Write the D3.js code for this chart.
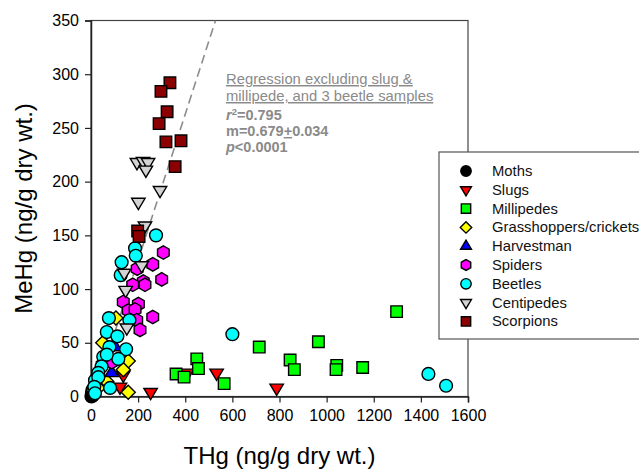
<!DOCTYPE html>
<html><head><meta charset="utf-8">
<script src="https://cdn.jsdelivr.net/npm/d3@7"></script>
<style>body{margin:0;background:#fff;} svg{display:block;font-family:Arial,"Liberation Sans",sans-serif;}</style>
</head><body>
<svg id="c" width="639" height="470"></svg>
<script>
// ---- data (THg, MeHg) in ng/g dry wt. ----
const moths = [[2,0],[4,3],[8,1],[11,4],[6,6]];
const slugs = [[409,22],[533,22],[788,8],[253,4],[123,9],[137,20]];
const millipedes = [[361,21],[395,18],[449,35],[456,26],[565,12],[714,46],[845,34],[863,25],[965,51],[1043,29],[1040,25],[1153,27],[1297,79]];
const grasshoppers = [[106,73],[50,50],[158,33],[137,25],[158,4],[52,32],[67,14],[30,8]];
const harvestman = [[88,22],[102,46]];
const spiders = [[307,134],[262,123],[196,119],[300,109],[222,107],[229,104],[177,104],[137,88],[201,86],[158,80],[187,81],[262,74],[194,71],[208,62],[88,32]];
const beetles = [[600,58],[1432,21],[1507,10],[276,150],[187,138],[190,131],[130,125],[126,113],[163,71],[76,73],[67,60],[112,56],[149,44],[78,46],[116,35],[52,37],[45,28],[31,22],[17,15],[81,8],[10,6],[67,39],[31,18],[14,9],[17,3]];
const centipedes = [[195,218],[221,219],[242,218],[233,211],[201,181],[293,192],[229,159],[215,122],[141,115],[147,99],[152,64]];
const scorpions = [[335,292],[297,284],[323,265],[289,254],[318,237],[382,238],[357,214],[198,154],[204,149]];

const seriesNames = ["Moths","Slugs","Millipedes","Grasshoppers/crickets","Harvestman","Spiders","Beetles","Centipedes","Scorpions"];
const seriesData = [moths,slugs,millipedes,grasshoppers,harvestman,spiders,beetles,centipedes,scorpions];
const seriesShapes = ["circle","triDown","square","diamond","triUp","hexagon","circle","triDown","square"];
const seriesColors = ["#000000","#ff0000","#00ff00","#ffff00","#0000ff","#ff00ff","#00ffff","#d3d3d3","#8b0000"];

const xTicks = [0,200,400,600,800,1000,1200,1400,1600];
const yTicks = [0,50,100,150,200,250,300,350];
const regSlope = 0.679, regIntercept = -8.8;

// ---- layout ----
const svg = d3.select("#c");
const x = d3.scaleLinear().domain([0,1600]).range([91,468]);
const y = d3.scaleLinear().domain([0,350]).range([396.5,20.5]);

function shapePath(type, s){
  const p = d3.path();
  if(type==="circle"){ p.arc(0,0,s,0,2*Math.PI); }
  else if(type==="square"){ p.rect(-s*0.9,-s*0.9,s*1.8,s*1.8); }
  else if(type==="diamond"){ p.moveTo(0,-s*1.1);p.lineTo(s*1.1,0);p.lineTo(0,s*1.1);p.lineTo(-s*1.1,0);p.closePath(); }
  else if(type==="triDown"){ const h=s*1.75; p.moveTo(-s*1.05,-h/3);p.lineTo(s*1.05,-h/3);p.lineTo(0,2*h/3);p.closePath(); }
  else if(type==="triUp"){ const h=s*1.75; p.moveTo(-s*1.05,h/3);p.lineTo(s*1.05,h/3);p.lineTo(0,-2*h/3);p.closePath(); }
  else if(type==="hexagon"){ for(let i=0;i<6;i++){const a=Math.PI/2+i*Math.PI/3; const px=Math.cos(a)*s*1.05, py=Math.sin(a)*s*1.05; if(i===0)p.moveTo(px,py); else p.lineTo(px,py);} p.closePath(); }
  return p.toString();
}

// frame
svg.append("rect").attr("x",x(0)).attr("y",y(350)).attr("width",x(1600)-x(0)).attr("height",y(0)-y(350))
  .attr("fill","none").attr("stroke","#444").attr("stroke-width",1.2);

// axes
const xAxis = svg.append("g").attr("transform",`translate(0,${y(0)})`)
  .call(d3.axisBottom(x).tickValues(xTicks).tickSize(6).tickPadding(7).tickFormat(d3.format("d")));
const yAxis = svg.append("g").attr("transform",`translate(${x(0)},0)`)
  .call(d3.axisLeft(y).tickValues(yTicks).tickSize(6).tickPadding(6).tickFormat(d3.format("d")));
[xAxis,yAxis].forEach(a=>{
  a.select(".domain").attr("stroke","#222").attr("stroke-width",1.5);
  a.selectAll(".tick line").attr("stroke","#222").attr("stroke-width",1.2);
  a.selectAll(".tick text").attr("font-size",16).attr("fill","#000").attr("font-family","Arial, 'Liberation Sans', sans-serif");
});

// regression line (clipped to plot)
svg.append("clipPath").attr("id","pc").append("rect").attr("x",x(0)).attr("y",y(350)).attr("width",x(1600)-x(0)).attr("height",y(0)-y(350));
const xStart = -regIntercept/regSlope, xEnd = (350-regIntercept)/regSlope;
svg.append("line").attr("clip-path","url(#pc)")
  .attr("x1",x(xStart)).attr("y1",y(0)).attr("x2",x(xEnd)).attr("y2",y(350))
  .attr("stroke","#8c8c8c").attr("stroke-width",1.6).attr("stroke-dasharray","9,5");

// points
seriesData.forEach((data,i)=>{
  svg.append("g").selectAll("path").data(data).join("path")
    .attr("d",shapePath(seriesShapes[i],6.4))
    .attr("transform",d=>`translate(${x(d[0])},${y(d[1])})`)
    .attr("fill",seriesColors[i]).attr("stroke","#000").attr("stroke-width",1.4);
});

// annotation
const ann = svg.append("g").attr("fill","#8a8a8a").attr("font-size",14.8);
ann.append("text").attr("x",226).attr("y",84).attr("text-decoration","underline").text("Regression excluding slug &");
ann.append("text").attr("x",226).attr("y",101).attr("text-decoration","underline").text("millipede, and 3 beetle samples");
const t3 = ann.append("text").attr("x",226).attr("y",120).attr("font-weight","bold").attr("font-size",14.5);
t3.append("tspan").attr("font-style","italic").text("r");
t3.append("tspan").attr("font-size",9.5).attr("dy",-5.5).text("2");
t3.append("tspan").attr("dy",5.5).text("=0.795");
const t4 = ann.append("text").attr("x",226).attr("y",136).attr("font-weight","bold").attr("font-size",14.5);
t4.append("tspan").text("m=0.679");
t4.append("tspan").attr("text-decoration","underline").text("+");
t4.append("tspan").text("0.034");
const t5 = ann.append("text").attr("x",226).attr("y",152).attr("font-weight","bold").attr("font-size",14.5);
t5.append("tspan").attr("font-style","italic").text("p");
t5.append("tspan").text("<0.0001");

// axis titles
svg.append("text").attr("x",(x(0)+x(1600))/2).attr("y",464).attr("text-anchor","middle").attr("font-size",24).text("THg (ng/g dry wt.)");
svg.append("text").attr("transform",`translate(32,${(y(0)+y(350))/2}) rotate(-90)`).attr("text-anchor","middle").attr("font-size",24).text("MeHg (ng/g dry wt.)");

// legend
const lg = svg.append("g");
lg.append("rect").attr("x",439).attr("y",152).attr("width",220).attr("height",187).attr("fill","#fff").attr("stroke","#555").attr("stroke-width",1.2);
seriesNames.forEach((n,i)=>{
  const yy = 171 + i*18.8;
  lg.append("path").attr("d",shapePath(seriesShapes[i],5.2)).attr("transform",`translate(466,${yy})`)
    .attr("fill",seriesColors[i]).attr("stroke","#000").attr("stroke-width",1.4);
  lg.append("text").attr("x",492).attr("y",yy+5).attr("font-size",14.8).attr("fill","#111").text(n);
});
</script>
</body></html>
